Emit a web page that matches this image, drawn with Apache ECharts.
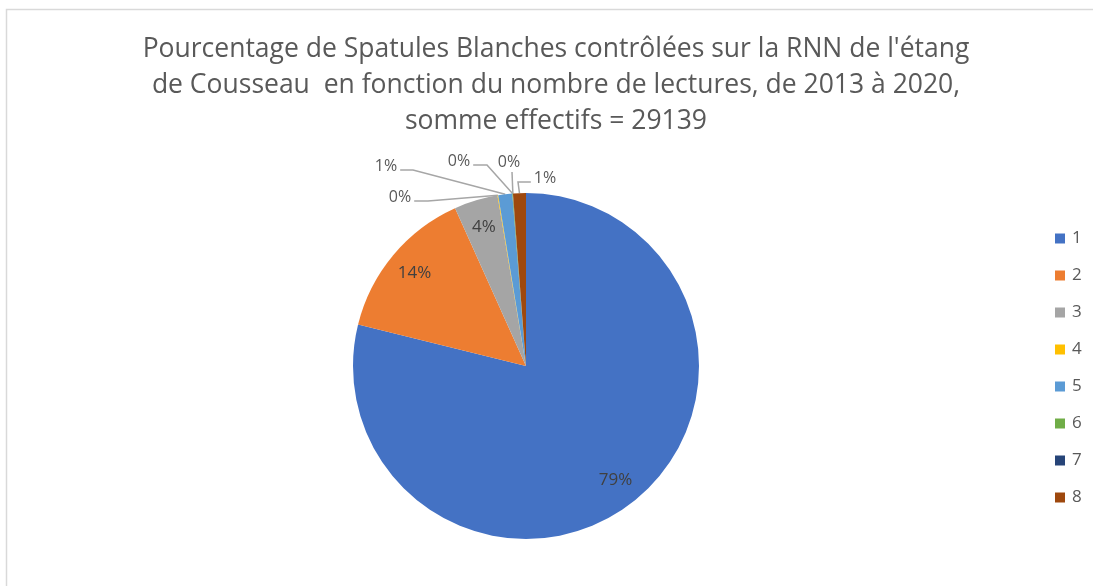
<!DOCTYPE html>
<html>
<head>
<meta charset="utf-8">
<script src="https://cdn.jsdelivr.net/npm/echarts@6/dist/echarts.min.js"></script>
<style>
  html, body { margin: 0; padding: 0; background: #fff; }
  #chart { width: 1093px; height: 586px; }
</style>
</head>
<body>
<div id="chart"></div>
<script>
// nombre de lectures (catégories) et effectifs
const categories = ['1', '2', '3', '4', '5', '6', '7', '8'];
const effectifs = [22980, 4200, 1190, 20, 380, 15, 4, 350];
const colors = ['#4472C4', '#ED7D31', '#A5A5A5', '#FFC000', '#5B9BD5', '#70AD47', '#264478', '#9E480E'];

const total = effectifs.reduce((a, b) => a + b, 0);
const cx = 526, cy = 366, R = 173;

// angle milieu (radians, depuis 12h, sens horaire) de chaque part
function midAngle(i) {
    let before = 0;
    for (let k = 0; k < i; k++) before += effectifs[k];
    return (before + effectifs[i] / 2) / total * Math.PI * 2;
}
function polar(a, r) {
    return [cx + r * Math.sin(a), cy - r * Math.cos(a)];
}

// petites parts : étiquette sortie, centre étiquette + point de coude
const outside = {
    3: { pos: [400, 197], bend: [428, 201], side: 'left' },
    4: { pos: [386, 166], bend: [413, 170], side: 'left' },
    5: { pos: [459, 161], bend: [487, 165], side: 'left' },
    6: { pos: [509, 162], bend: [512, 172], side: 'top' },
    7: { pos: [545, 178], bend: [518, 182], side: 'right' }
};

let chart = echarts.init(document.getElementById('chart'));
let option = {
    backgroundColor: '#fff',
    title: {
        text: "Pourcentage de Spatules Blanches contrôlées sur la RNN de l'étang\nde Cousseau  en fonction du nombre de lectures, de 2013 à 2020,\nsomme effectifs = 29139",
        left: 556,
        top: 31,
        padding: 0,
        textAlign: 'center',
        textStyle: {
            fontFamily: 'Open Sans',
            fontSize: 26.5,
            fontWeight: 'normal',
            color: '#595959',
            lineHeight: 36
        }
    },
    graphic: [{
        type: 'rect',
        shape: { x: 6.5, y: 9.5, width: 1200, height: 700 },
        style: { fill: 'none', stroke: '#d9d9d9', lineWidth: 1.5 },
        silent: true
    }],
    legend: {
        orient: 'vertical',
        left: 1050,
        top: 224,
        itemWidth: 10,
        itemHeight: 10,
        itemGap: 18,
        icon: 'rect',
        textStyle: { fontFamily: 'Open Sans', fontSize: 17, color: '#595959', padding: [0, 0, 0, 2], lineHeight: 19 },
        data: categories
    },
    series: [{
        type: 'pie',
        center: [cx, cy],
        radius: R,
        startAngle: 90,
        clockwise: true,
        avoidLabelOverlap: false,
        minShowLabelAngle: 0,
        itemStyle: { borderWidth: 0 },
        label: {
            show: true,
            position: 'outside',
            fontFamily: 'Open Sans',
            fontSize: 16,
            color: '#595959',
            formatter: p => Math.round(p.value / total * 100) + '%'
        },
        labelLine: {
            show: true,
            lineStyle: { color: '#a6a6a6', width: 1.5 }
        },
        labelLayout: function (params) {
            const i = params.dataIndex;
            const a = midAngle(i);
            if (outside[i]) {
                const o = outside[i];
                const w = params.labelRect.width;
                const start = polar(a, R);
                let end;
                if (o.side === 'left') end = [o.pos[0] + w / 2 + 3, o.bend[1]];
                else if (o.side === 'right') end = [o.pos[0] - w / 2 - 3, o.bend[1]];
                else end = [o.pos[0] + 3, o.bend[1]];
                return {
                    x: o.pos[0], y: o.pos[1], align: 'center', verticalAlign: 'middle',
                    labelLinePoints: [start, o.bend, end]
                };
            }
            const p = polar(a, R * 0.84);
            return { x: p[0], y: p[1], align: 'center', verticalAlign: 'middle', labelLinePoints: [p, p, p] };
        },
        data: categories.map((c, i) => {
            const d = { name: c, value: effectifs[i], itemStyle: { color: colors[i] } };
            if (!outside[i]) {
                d.label = { color: '#404040', fontSize: 17 };
                d.labelLine = { show: false };
            }
            return d;
        })
    }]
};
chart.setOption(option);
</script>
</body>
</html>
